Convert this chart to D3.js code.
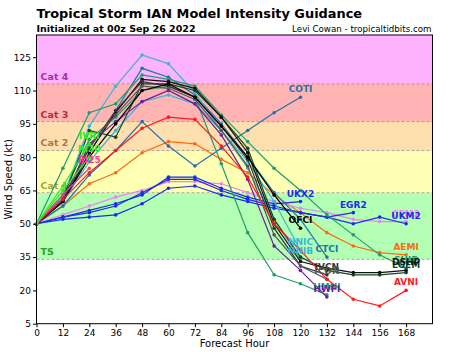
<!DOCTYPE html>
<html>
<head>
<meta charset="utf-8">
<script src="https://cdn.jsdelivr.net/npm/d3@7"></script>
<style>
  body { margin: 0; background: #fff; }
  svg { display: block; font-family: "DejaVu Sans", sans-serif; }
</style>
</head>
<body>
<svg id="chart" width="450" height="352"></svg>
<script>
// Hores de previsió
const hours = [0, 12, 24, 36, 48, 60, 72, 84, 96, 108, 120, 132, 144, 156, 168];
const yTicks = [5, 20, 35, 50, 65, 80, 95, 110, 125];

// Categories Saffir-Simpson (kt)
const bandNames = ['TS', 'Cat 1', 'Cat 2', 'Cat 3', 'Cat 4'];
const bandLow = [34, 64, 83, 96, 113];
const bandHigh = [64, 83, 96, 113, 135];

// Intensitat de cada model (kt), una dada per hora fins on arriba el model
const AEMI = [50, 58, 68, 73, 82, 87, 86, 79, 73, 63, 55, 46, 40, 37, 36];
const CEM2 = [50, 54, 58, 62, 65, 69, 69, 68, 64, 60, 57, 55, 52, 51, 51];
const UKX2 = [50, 53, 56, 59, 63, 71, 71, 66, 62, 59, 60];
const EGR2 = [50, 52, 53, 54, 59, 66, 67, 63, 60, 57, 55, 53, 55];
const UKM2 = [50, 53, 55, 58, 64, 70, 70, 65, 61, 58, 55, 53, 50, 53, 50];
const COTI = [50, 58, 72, 83, 96, 85, 76, 84, 92, 100, 107];
const CTCI = [50, 60, 82, 101, 120, 116, 108, 95, 80, 64, 52, 35];
const NNIC = [50, 62, 94, 112, 126, 122, 109, 92, 78, 60, 38];
const NNIB = [50, 60, 78, 92, 105, 108, 104, 92, 75, 52, 34];
const SHIP = [50, 75, 100, 104, 117, 115, 112, 99, 87, 75, 65, 54, 45, 36, 30];
const HMNI = [50, 63, 88, 98, 110, 112, 107, 77, 46, 27, 23, 18];
const LGEM = [50, 61, 92, 89, 113, 113, 110, 98, 84, 52, 35, 29, 27, 27, 28];
const DSHP = [50, 60, 82, 100, 115, 114, 111, 98, 82, 50, 33, 30, 28, 28, 29];
const IVCN = [50, 61, 84, 101, 114, 112, 107, 94, 79, 48, 31, 27];
const ICON = [50, 61, 85, 99, 112, 111, 106, 92, 76, 45, 31, 25];
const HWFI = [50, 60, 86, 96, 105, 110, 104, 90, 70, 40, 29, 17];
const OFCI = [50, 60, 80, 95, 110, 113, 107, 94, 80, 63, 48];
const AVNI = [50, 61, 73, 83, 93, 98, 97, 85, 71, 50, 38, 25, 16, 13, 20];
const RI25 = [50, 63, 75];
const RI30 = [50, 65, 80];
const IVRI = [50, 67, 86];

const models = [
    { name: 'AEMI', values: AEMI, color: '#ff6a10' },
    { name: 'CEM2', values: CEM2, color: '#ee82ee' },
    { name: 'UKX2', values: UKX2, color: '#1a2ee8' },
    { name: 'EGR2', values: EGR2, color: '#1a2ee8' },
    { name: 'UKM2', values: UKM2, color: '#1a2ee8' },
    { name: 'COTI', values: COTI, color: '#2372ac' },
    { name: 'CTCI', values: CTCI, color: '#2372ac' },
    { name: 'NNIC', values: NNIC, color: '#3cb4dc' },
    { name: 'NNIB', values: NNIB, color: '#3cb4dc' },
    { name: 'SHIP', values: SHIP, color: '#1f9e6a' },
    { name: 'HMNI', values: HMNI, color: '#1f9e6a' },
    { name: 'LGEM', values: LGEM, color: '#0d4a1e' },
    { name: 'DSHP', values: DSHP, color: '#111111' },
    { name: 'IVCN', values: IVCN, color: '#333333' },
    { name: 'ICON', values: ICON, color: '#555555' },
    { name: 'HWFI', values: HWFI, color: '#6a1fa0' },
    { name: 'OFCI', values: OFCI, color: '#000000' },
    { name: 'AVNI', values: AVNI, color: '#ff1a1a' },
    { name: 'RI25', values: RI25, color: '#ff3399' },
    { name: 'RI30', values: RI30, color: '#22ee22' },
    { name: 'IVRI', values: IVRI, color: '#22ee22' }
];

const bandFill = ['#b3ffb3', '#ffffb3', '#ffdfb0', '#ffb3b3', '#ffb3ff'];
const bandText = ['#2e9e2e', '#a0a040', '#a87840', '#b03030', '#a030a0'];

const svg = d3.select('#chart');
const plotLeft = 36.5, plotRight = 432.5, plotTop = 35, plotBottom = 323.7;

const x = d3.scaleLinear().domain([0, 180]).range([plotLeft, plotRight]);
const y = d3.scaleLinear().domain([5, 135]).range([plotBottom, plotTop]);

// Franges de categoria
bandNames.forEach((name, i) => {
    svg.append('rect')
        .attr('x', plotLeft)
        .attr('y', y(bandHigh[i]))
        .attr('width', plotRight - plotLeft)
        .attr('height', y(bandLow[i]) - y(bandHigh[i]))
        .attr('fill', bandFill[i]);
    svg.append('line')
        .attr('x1', plotLeft).attr('x2', plotRight)
        .attr('y1', y(bandLow[i])).attr('y2', y(bandLow[i]))
        .attr('stroke', 'rgba(130,100,100,0.55)')
        .attr('stroke-width', 1)
        .attr('stroke-dasharray', '3,2');
    svg.append('text')
        .attr('x', plotLeft + 4)
        .attr('y', y(bandLow[i]) - 4)
        .attr('fill', bandText[i])
        .attr('font-size', '9.5px')
        .attr('font-weight', 'bold')
        .text(name);
});

// Línies dels models
const line = d3.line()
    .x((d, i) => x(hours[i]))
    .y(d => y(d));

models.forEach(m => {
    svg.append('path')
        .datum(m.values)
        .attr('fill', 'none')
        .attr('stroke', m.color)
        .attr('stroke-width', 1.2)
        .attr('d', line);
    svg.append('g')
        .selectAll('circle')
        .data(m.values)
        .join('circle')
        .attr('cx', (d, i) => x(hours[i]))
        .attr('cy', d => y(d))
        .attr('r', 1.8)
        .attr('fill', m.color);
});

// Etiquetes al final de cada línia
models.forEach(m => {
    const n = m.values.length - 1;
    svg.append('text')
        .attr('x', x(hours[n]))
        .attr('y', y(m.values[n]) - 5)
        .attr('text-anchor', 'middle')
        .attr('fill', m.color)
        .attr('font-size', '9px')
        .attr('font-weight', 'bold')
        .text(m.name);
});

// Marc
svg.append('rect')
    .attr('x', plotLeft).attr('y', plotTop)
    .attr('width', plotRight - plotLeft).attr('height', plotBottom - plotTop)
    .attr('fill', 'none')
    .attr('stroke', '#000')
    .attr('stroke-width', 1);

// Eixos
const xAxis = svg.append('g')
    .attr('transform', `translate(0,${plotBottom})`)
    .call(d3.axisBottom(x).tickValues(hours).tickSize(3.5).tickPadding(2));
const yAxis = svg.append('g')
    .attr('transform', `translate(${plotLeft},0)`)
    .call(d3.axisLeft(y).tickValues(yTicks).tickSize(3.5).tickPadding(2));
[xAxis, yAxis].forEach(g => {
    g.select('.domain').remove();
    g.selectAll('text').attr('font-size', '9px').attr('font-family', 'DejaVu Sans').attr('fill', '#000');
    g.selectAll('line').attr('stroke', '#000');
});

svg.append('text')
    .attr('transform', `translate(12,${(plotTop + plotBottom) / 2}) rotate(-90)`)
    .attr('text-anchor', 'middle')
    .attr('font-size', '10px')
    .text('Wind Speed (kt)');

svg.append('text')
    .attr('x', (plotLeft + plotRight) / 2)
    .attr('y', 347)
    .attr('text-anchor', 'middle')
    .attr('font-size', '10px')
    .text('Forecast Hour');

// Títols
svg.append('text')
    .attr('x', plotLeft)
    .attr('y', 18)
    .attr('font-size', '12.9px')
    .attr('font-weight', 'bold')
    .text('Tropical Storm IAN Model Intensity Guidance');

svg.append('text')
    .attr('x', plotLeft)
    .attr('y', 32)
    .attr('font-size', '9.5px')
    .attr('font-weight', 'bold')
    .text('Initialized at 00z Sep 26 2022');

svg.append('text')
    .attr('x', plotRight - 1)
    .attr('y', 32)
    .attr('text-anchor', 'end')
    .attr('font-size', '8.7px')
    .text('Levi Cowan - tropicaltidbits.com');
</script>
</body>
</html>
